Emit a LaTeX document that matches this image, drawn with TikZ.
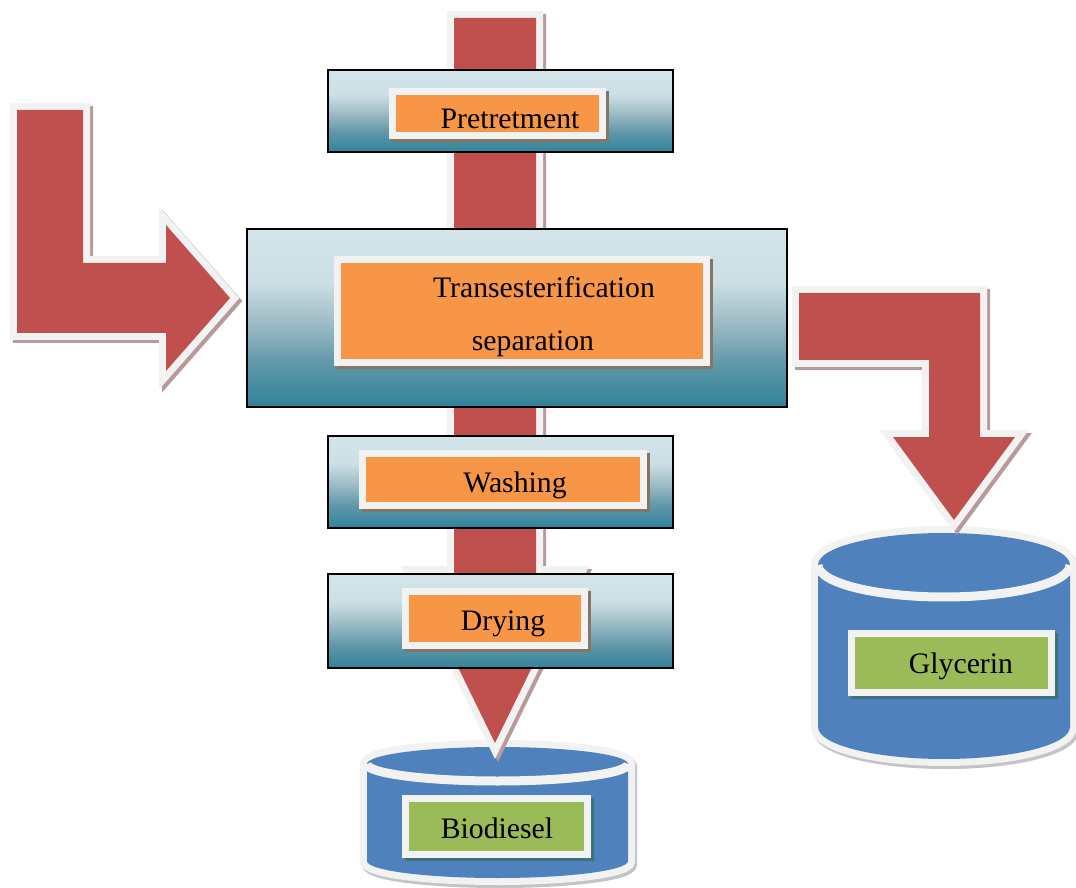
\documentclass[tikz,border=0pt]{standalone}
\usepackage{fontspec}
\setmainfont{Liberation Serif}
\definecolor{arrowred}{HTML}{C0504D}
\definecolor{rim}{HTML}{F2F2F2}
\definecolor{arrowshade}{HTML}{B89A9A}
\definecolor{lblorange}{HTML}{F79646}
\definecolor{lblgreen}{HTML}{9BBB59}
\definecolor{tankblue}{HTML}{4F81BD}
\definecolor{tankshade}{HTML}{C4C4C4}
\definecolor{lblshadeA}{HTML}{857565}
\definecolor{lblshadeB}{HTML}{40707A}
\definecolor{bxtop}{HTML}{D4E5EA}
\definecolor{bxlt}{HTML}{CCDFE5}
\definecolor{bxmid}{HTML}{9FBDC7}
\definecolor{bxlow}{HTML}{5F97A8}
\definecolor{bxdk}{HTML}{30839A}
\pgfdeclareverticalshading{boxshade}{100bp}{color(0bp)=(bxdk); color(25bp)=(bxdk); color(37bp)=(bxlow); color(49bp)=(bxmid); color(60bp)=(bxlt); color(75bp)=(bxtop); color(100bp)=(bxtop)}
\tikzset{
  arrowbody/.style={fill=arrowred, line join=miter,
    preaction={draw=rim, line width=10.5pt, line join=miter}},
  arrowshadow/.style={fill=arrowshade, draw=arrowshade, line width=10.5pt, line join=miter},
  procbox/.style={shading=boxshade, draw=black, line width=2pt},
  lblrim/.style={fill=rim},
  lblshadowA/.style={fill=lblshadeA},
  lblshadowB/.style={fill=lblshadeB},
  tank/.style={fill=tankblue, preaction={draw=rim, line width=10.5pt}},
  tankshadow/.style={fill=tankshade, draw=tankshade, line width=10.5pt},
  tanklip/.style={draw=rim, line width=6.75pt},
  lbl/.style={font=\fontsize{22.3pt}{26pt}\selectfont, inner sep=0pt, text=black}
}
\newcommand\arrowMain[1]{\path[#1] (454,18) -- (536,18) -- (536,573) -- (578,573) -- (495,743) -- (412,573) -- (454,573) -- cycle;}
\newcommand\arrowLeftL[1]{\path[#1] (17,110) -- (83,110) -- (83,263) -- (166,263) -- (166,225) -- (230,298) -- (166,371) -- (166,333) -- (17,333) -- cycle;}
\newcommand\arrowGly[1]{\path[#1] (799,293) -- (980,293) -- (980,437) -- (1015,437) -- (954,520) -- (893,437) -- (929,437) -- (929,360) -- (799,360) -- cycle;}
% #1 options, #2 cx, #3 cy, #4 rx, #5 ry, #6 bottom y of sides
\newcommand\tankBody[6]{\path[#1] ({#2-#4},#3) -- ({#2-#4},#6) arc[start angle=180, end angle=0, x radius=#4, y radius=#5] -- ({#2+#4},#3) arc[start angle=0, end angle=-180, x radius=#4, y radius=#5] -- cycle;}
\newcommand\tankLip[5]{\path[#1] ({#2-#4},#3) arc[start angle=180, end angle=0, x radius=#4, y radius=#5];}
% label box: #1 shadow style, #2 fill colour, x1,y1,x2,y2
\newcommand\labelBox[6]{%
  \fill[#1] ({#3+3},{#4+3}) rectangle ({#5+3},{#6+3});
  \fill[lblrim] (#3,#4) rectangle (#5,#6);
  \fill[#2] ({#3+7},{#4+7}) rectangle ({#5-7},{#6-7});}
\begin{document}
\begin{tikzpicture}[x=0.75pt,y=-0.75pt]
\useasboundingbox (0,0) rectangle (1076,888);
\fill[white] (0,0) rectangle (1076,888);

% tanks
\tankBody{tankshadow, shift={(2,3)}}{497.5}{764}{130.5}{17}{861}
\tankBody{tank}{497.5}{764}{130.5}{17}{861}
\tankLip{tanklip}{497.5}{764}{130.5}{17}
\tankBody{tankshadow, shift={(2,3)}}{944}{565}{126}{32}{727}
\tankBody{tank}{944}{565}{126}{32}{727}
\tankLip{tanklip}{944}{565}{126}{32}

% block arrows
\arrowMain{arrowshadow, shift={(3,3)}}
\arrowLeftL{arrowshadow, shift={(3,3)}}
\arrowGly{arrowshadow, shift={(3,3)}}
\arrowMain{arrowbody}
\arrowLeftL{arrowbody}
\arrowGly{arrowbody}

% process boxes
\path[procbox] (328,70) rectangle (673,152);
\path[procbox] (247,229) rectangle (787,407);
\path[procbox] (328,436) rectangle (673,528);
\path[procbox] (328,574) rectangle (673,668);

% labels
\labelBox{lblshadowA}{lblorange}{389}{88}{606}{139}
\node[lbl, anchor=base] (pre) at (510,129) {Pretretment};

\labelBox{lblshadowA}{lblorange}{334}{256}{710}{366}
\node[lbl, anchor=base] (trans) at (544,298) {Transesterification};
\node[lbl, anchor=base] (sep) at (533,350) {separation};

\labelBox{lblshadowA}{lblorange}{359}{450}{647}{509}
\node[lbl, anchor=base] (wash) at (515,492) {Washing};

\labelBox{lblshadowA}{lblorange}{402}{588}{588}{649}
\node[lbl, anchor=base] (dry) at (503,630) {Drying};

\labelBox{lblshadowB}{lblgreen}{402}{795}{591}{858}
\node[lbl, anchor=base] (bio) at (497,838) {Biodiesel};

\labelBox{lblshadowB}{lblgreen}{848}{630}{1055}{696}
\node[lbl, anchor=base] (gly) at (961,673) {Glycerin};
\end{tikzpicture}
\end{document}
